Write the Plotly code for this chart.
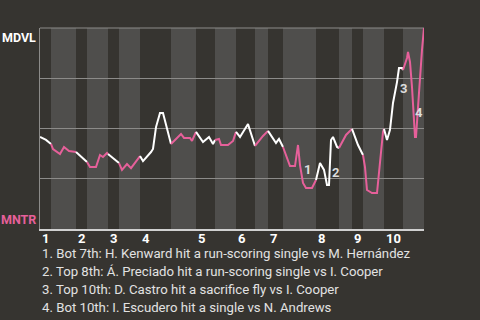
import plotly.graph_objects as go

# Game progress (arbitrary units along the game) and home-side win probability
progress = [0, 6, 11, 13, 20, 24, 29, 36, 47, 50, 56, 60, 63, 67, 68, 73, 79, 82, 87, 91,
            100, 103, 111, 113, 116, 120, 123, 127, 131, 136, 141, 144, 150, 152, 156,
            163, 169, 173, 175, 179, 181, 188, 193, 196, 200, 208, 215, 223, 228, 236,
            239, 243, 250, 255, 258, 260, 263, 266, 272, 276, 280, 284, 287, 289, 291,
            293, 297, 299, 306, 312, 318, 323, 325, 327, 332, 337, 340, 343, 344, 347,
            350, 353, 357, 359, 362, 363, 367, 368, 370, 372, 374, 375, 376, 377, 379,
            382, 384]
win_prob = [0.458, 0.443, 0.423, 0.398, 0.373, 0.408, 0.388, 0.383, 0.333, 0.308, 0.308,
            0.368, 0.358, 0.378, 0.373, 0.353, 0.328, 0.294, 0.323, 0.303,
            0.363, 0.338, 0.383, 0.398, 0.507, 0.577, 0.577, 0.493, 0.423, 0.448, 0.473,
            0.453, 0.453, 0.438, 0.483,
            0.433, 0.458, 0.423, 0.443, 0.448, 0.418, 0.418, 0.438, 0.483, 0.458, 0.522,
            0.413, 0.463, 0.488, 0.428,
            0.448, 0.408, 0.313, 0.313, 0.418, 0.318, 0.229, 0.204, 0.204, 0.244, 0.328,
            0.294, 0.219, 0.219, 0.443,
            0.458, 0.408, 0.403, 0.468, 0.498, 0.418, 0.368, 0.308, 0.194, 0.179, 0.179,
            0.333, 0.483, 0.498, 0.443,
            0.493, 0.627, 0.731, 0.801, 0.801, 0.791, 0.851, 0.881, 0.831, 0.706, 0.542,
            0.458, 0.458, 0.542, 0.677,
            0.891, 1.0]

# Half-inning boundaries (top/bottom alternating)
half_innings = [0, 11, 36, 47, 68, 79, 100, 131, 156, 175, 196, 215, 228, 243, 276,
                299, 312, 323, 344, 363, 384]
inning_labels = ["1", "2", "3", "4", "5", "6", "7", "8", "9", "10"]

# Key plays
event_labels = ["1", "2", "3", "4"]
event_x = [267, 295, 363, 379]
event_y = [0.294, 0.279, 0.701, 0.582]
event_notes = [
    "1. Bot 7th: H. Kenward hit a run-scoring single vs M. Hernández",
    "2. Top 8th: Á. Preciado hit a run-scoring single vs I. Cooper",
    "3. Top 10th: D. Castro hit a sacrifice fly vs I. Cooper",
    "4. Bot 10th: I. Escudero hit a single vs N. Andrews",
]
teams = ["MDVL", "MNTR"]

BG = "#363430"
BAND = "#4f4e4c"
GRID = "#8c8b89"
WHITE = "#ffffff"
PINK = "#e6609a"
TEXT = "#e2e2e2"
FONT = "Roboto"

fig = go.Figure()

# line split per half-inning
for i in range(len(half_innings) - 1):
    a, b = half_innings[i], half_innings[i + 1]
    xs = [x for x in progress if a <= x <= b]
    ys = [y for x, y in zip(progress, win_prob) if a <= x <= b]
    fig.add_trace(go.Scatter(
        x=xs, y=ys, mode="lines",
        line=dict(color=WHITE if i % 2 == 0 else PINK, width=2),
        hoverinfo="skip", showlegend=False))

shapes = []
for i in range(1, len(half_innings) - 1, 2):
    shapes.append(dict(type="rect", xref="x", yref="paper",
                       x0=half_innings[i], x1=half_innings[i + 1], y0=0, y1=1,
                       fillcolor=BAND, line=dict(width=0), layer="below"))
# top frame line
shapes.append(dict(type="line", xref="paper", yref="paper", x0=0, x1=1, y0=1, y1=1,
                   line=dict(color=GRID, width=1), layer="below"))

annotations = []
# inning labels
for k, lab in enumerate(inning_labels):
    annotations.append(dict(x=half_innings[2 * k], y=-0.045, xref="x", yref="paper",
                            text="<b>" + lab + "</b>", showarrow=False, xanchor="left",
                            yanchor="middle", xshift=0,
                            font=dict(family=FONT, size=13, color=WHITE)))
# event markers
for lab, ex, ey in zip(event_labels, event_x, event_y):
    annotations.append(dict(x=ex, y=ey, xref="x", yref="y", text="<b>" + lab + "</b>",
                            showarrow=False, font=dict(family=FONT, size=13, color="#dddddd")))
# team labels
annotations.append(dict(x=0, y=1, xref="x", yref="paper", text="<b>" + teams[0] + "</b>",
                        showarrow=False, xanchor="right", yanchor="top", xshift=-2,
                        font=dict(family=FONT, size=12.5, color=WHITE)))
annotations.append(dict(x=0, y=0, xref="x", yref="paper", text="<b>" + teams[1] + "</b>",
                        showarrow=False, xanchor="right", yanchor="bottom", xshift=-2,
                        font=dict(family=FONT, size=12.5, color=PINK)))
# notes
for j, note in enumerate(event_notes):
    annotations.append(dict(x=0, y=-0.124 - 0.0895 * j, xref="x", yref="paper", text=note,
                            showarrow=False, xanchor="left", yanchor="middle", xshift=0,
                            font=dict(family=FONT, size=13.2, color=TEXT)))

fig.update_layout(
    width=480, height=320,
    margin=dict(l=40, r=56, t=28, b=91),
    paper_bgcolor=BG, plot_bgcolor=BG,
    shapes=shapes, annotations=annotations,
    xaxis=dict(range=[0, 384], showgrid=False, zeroline=False, showticklabels=False,
               ticks="", showline=True, linecolor="#d0d0d0", linewidth=1.5),
    yaxis=dict(range=[0, 1], tickvals=[0.25, 0.5, 0.75, 1.0], showticklabels=False,
               ticks="", gridcolor=GRID, gridwidth=1, zeroline=False,
               showline=True, linecolor=GRID, linewidth=1),
    font=dict(family=FONT),
)

fig.write_html("out.html")
